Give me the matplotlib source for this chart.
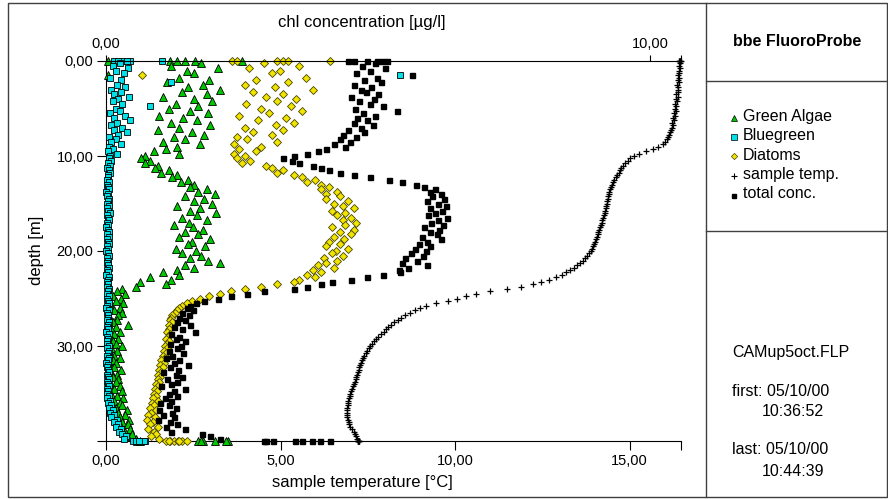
import matplotlib
matplotlib.use("Agg")
import matplotlib.pyplot as plt
from matplotlib.lines import Line2D
from matplotlib.patches import Rectangle

plt.rcParams['font.family'] = ['Liberation Sans', 'DejaVu Sans']

# depth of each sample [m]
depth = [0, 0, 0, 0, 0, 0,
         0.25, 0.5, 0.75, 1.0, 1.25, 1.5, 1.75, 2.0,
         2.25, 2.5, 2.75, 3.0, 3.25, 3.5, 3.75, 4.0,
         4.25, 4.5, 4.75, 5.0, 5.25, 5.5, 5.75, 6.0,
         6.25, 6.5, 6.75, 7.0, 7.25, 7.5, 7.75, 8.0,
         8.25, 8.5, 8.75, 9.0, 9.25, 9.5, 9.75, 10.0,
         10.25, 10.5, 10.75, 11.0, 11.25, 11.5, 11.75, 12.0,
         12.25, 12.5, 12.75, 13.0, 13.25, 13.5, 13.75, 14.0,
         14.25, 14.5, 14.75, 15.0, 15.25, 15.5, 15.75, 16.0,
         16.25, 16.5, 16.75, 17.0, 17.25, 17.5, 17.75, 18.0,
         18.25, 18.5, 18.75, 19.0, 19.25, 19.5, 19.75, 20.0,
         20.25, 20.5, 20.75, 21.0, 21.25, 21.5, 21.75, 22.0,
         22.25, 22.5, 22.75, 23.0, 23.25, 23.5, 23.75, 24.0,
         24.25, 24.5, 24.75, 25.0, 25.25, 25.5, 25.75, 26.0,
         26.25, 26.5, 26.75, 27.0, 27.25, 27.5, 27.75, 28.0,
         28.25, 28.5, 28.75, 29.0, 29.25, 29.5, 29.75, 30.0,
         30.25, 30.5, 30.75, 31.0, 31.25, 31.5, 31.75, 32.0,
         32.25, 32.5, 32.75, 33.0, 33.25, 33.5, 33.75, 34.0,
         34.25, 34.5, 34.75, 35.0, 35.25, 35.5, 35.75, 36.0,
         36.25, 36.5, 36.75, 37.0, 37.25, 37.5, 37.75, 38.0,
         38.25, 38.5, 38.75, 39.0, 39.25, 39.5, 39.75,
         40, 40, 40, 40, 40, 40, 40, 40]

# chl concentration [ug/l]
green_algae = [0.03, 1.18, 1.45, 1.64, 2.50, 1.30,
               1.75, 1.20, 2.05, 1.48, 1.62, 0.03, 1.35, 1.90,
               1.12, 1.78, 1.50, 2.10, 1.40, 1.85, 1.05, 1.62,
               1.95, 1.28, 1.70, 1.15, 1.55, 1.88, 0.98, 1.42,
               1.68, 1.20, 1.92, 1.35, 0.95, 1.58, 1.80, 1.25,
               1.45, 1.05, 1.72, 1.30, 1.10, 0.88, 1.35, 0.72,
               0.65, 0.80, 0.72, 0.95, 0.90, 1.15, 1.02, 1.30,
               1.22, 1.50, 1.38, 1.62, 1.55, 1.85, 1.70, 2.00,
               1.45, 1.80, 1.62, 1.95, 1.30, 1.72, 1.55, 2.02,
               1.68, 1.40, 1.85, 1.52, 1.25, 1.60, 1.78, 1.45,
               1.70, 1.35, 1.92, 1.58, 1.50, 1.82, 1.28, 1.65,
               1.40, 1.75, 1.55, 1.88, 2.10, 1.45, 1.62, 1.30,
               1.05, 1.35, 0.80, 1.20, 0.62, 1.10, 0.55, 0.30,
               0.20, 0.35, 0.12, 0.28, 0.18, 0.32, 0.10, 0.25,
               0.15, 0.30, 0.22, 0.08, 0.20, 0.12, 0.40, 0.18,
               0.10, 0.25, 0.15, 0.08, 0.22, 0.12, 0.18, 0.30,
               0.10, 0.20, 0.08, 0.15, 0.25, 0.12, 0.18, 0.08,
               0.15, 0.28, 0.10, 0.20, 0.12, 0.22, 0.18, 0.08,
               0.25, 0.15, 0.30, 0.10, 0.20, 0.32, 0.15, 0.25,
               0.30, 0.18, 0.38, 0.22, 0.35, 0.25, 0.42, 0.30,
               0.40, 0.28, 0.45, 0.35, 0.48, 0.38, 0.55,
               0.57, 1.70, 1.78, 2.25, 2.00, 1.75, 0.62, 2.20]

bluegreen = [0.15, 0.30, 0.45, 1.03, 0.22, 0.38,
             0.25, 0.12, 0.40, 0.18, 0.33, 5.40, 0.08, 0.28,
             1.20, 0.20, 0.35, 0.10, 0.27, 0.15, 0.42, 0.22,
             0.12, 0.30, 0.80, 0.18, 0.25, 0.08, 0.35, 0.14,
             0.45, 0.20, 0.10, 0.30, 0.15, 0.38, 0.22, 0.06,
             0.18, 0.10, 0.28, 0.05, 0.12, 0.04, 0.20, 0.08,
             0.06, 0.10, 0.03, 0.07, 0.02, 0.05, 0.08, 0.03,
             0.04, 0.01, 0.06, 0.02, 0.03, 0.05, 0.00, 0.04,
             0.02, 0.06, 0.03, 0.01, 0.05, 0.02, 0.04, 0.07,
             0.01, 0.03, 0.05, 0.02, 0.04, 0.00, 0.03, 0.06,
             0.02, 0.05, 0.01, 0.03, 0.06, 0.02, 0.04, 0.00,
             0.03, 0.05, 0.02, 0.04, 0.01, 0.04, 0.06, 0.02,
             0.03, 0.00, 0.05, 0.03, 0.02, 0.04, 0.01, 0.05,
             0.04, 0.02, 0.06, 0.01, 0.03, 0.05, 0.02, 0.00,
             0.05, 0.01, 0.03, 0.04, 0.02, 0.06, 0.04, 0.01,
             0.03, 0.00, 0.05, 0.02, 0.04, 0.02, 0.01, 0.06,
             0.01, 0.05, 0.03, 0.02, 0.06, 0.03, 0.00, 0.04,
             0.02, 0.04, 0.05, 0.01, 0.03, 0.06, 0.02, 0.04,
             0.05, 0.01, 0.03, 0.02, 0.05, 0.02, 0.08, 0.04,
             0.10, 0.06, 0.12, 0.08, 0.15, 0.10, 0.20, 0.14,
             0.22, 0.18, 0.28, 0.24, 0.30, 0.36, 0.33,
             0.50, 0.58, 0.66, 0.72, 0.55, 0.62, 0.70, 0.60]

diatoms = [2.32, 3.15, 3.25, 3.35, 4.12, 2.40,
           2.90, 3.55, 2.62, 3.20, 3.05, 0.66, 3.68, 2.75,
           3.35, 2.55, 3.10, 3.80, 2.70, 3.25, 2.95, 3.50,
           3.15, 2.58, 3.40, 2.85, 3.60, 3.00, 2.45, 3.30,
           2.80, 3.45, 3.12, 2.55, 3.25, 2.70, 3.05, 2.40,
           2.60, 3.15, 2.35, 2.85, 2.45, 2.75, 2.35, 2.55,
           2.40, 2.65, 2.50, 2.95, 3.05, 3.25, 3.15, 3.45,
           3.60, 3.85, 3.70, 3.95, 4.10, 3.95, 4.25, 4.05,
           4.30, 4.05, 4.45, 4.20, 4.35, 4.55, 4.15, 4.40,
           4.25, 4.50, 4.35, 4.60, 4.40, 4.15, 4.55, 4.30,
           4.50, 4.20, 4.38, 4.10, 4.30, 4.05, 4.45, 4.22,
           4.15, 4.35, 4.00, 4.25, 4.05, 3.90, 4.20, 3.80,
           3.95, 3.70, 3.85, 3.55, 3.45, 3.15, 2.85, 2.55,
           2.30, 2.10, 1.90, 1.72, 1.58, 1.48, 1.40, 1.35,
           1.30, 1.26, 1.22, 1.20, 1.18, 1.22, 1.15, 1.20,
           1.16, 1.12, 1.18, 1.14, 1.10, 1.15, 1.12, 1.08,
           1.12, 1.06, 1.10, 1.04, 1.08, 1.02, 1.06, 1.00,
           1.04, 0.98, 1.02, 0.96, 1.00, 0.95, 0.98, 0.92,
           0.96, 0.90, 0.94, 0.88, 0.92, 0.86, 0.95, 0.84,
           0.88, 0.80, 0.92, 0.82, 0.78, 0.90, 0.75, 0.86,
           0.80, 0.95, 0.78, 0.88, 0.92, 0.82, 0.98,
           1.10, 1.18, 1.25, 1.32, 1.40, 1.48, 1.15, 1.35]

total_conc = [4.45, 4.55, 4.98, 5.07, 5.16, 4.80,
              4.95, 4.70, 5.12, 4.85, 4.60, 5.62, 4.98, 4.75,
              5.05, 4.55, 4.88, 4.68, 4.78, 5.00, 4.50, 4.92,
              4.65, 4.85, 5.10, 4.58, 5.35, 4.72, 4.95, 4.62,
              4.80, 4.55, 4.90, 4.68, 4.45, 4.75, 4.35, 4.60,
              4.30, 4.48, 4.20, 4.40, 4.05, 3.90, 3.70, 3.45,
              3.25, 3.42, 3.55, 3.80, 3.95, 4.10, 4.30, 4.55,
              4.85, 5.20, 5.45, 5.70, 5.85, 6.05, 5.95, 6.15,
              6.00, 6.22, 5.90, 6.10, 6.25, 5.95, 6.18, 6.05,
              5.92, 6.27, 6.10, 5.98, 6.20, 5.85, 6.12, 5.95,
              6.08, 5.80, 6.15, 5.90, 5.75, 5.95, 5.68, 5.88,
              5.60, 5.82, 5.50, 5.72, 5.45, 5.90, 5.55, 5.38,
              5.40, 5.10, 4.80, 4.50, 4.15, 3.95, 3.70, 3.45,
              2.90, 2.60, 2.30, 2.05, 1.80, 1.65, 1.55, 1.48,
              1.60, 1.40, 1.52, 1.35, 1.45, 1.30, 1.55, 1.25,
              1.40, 1.64, 1.20, 1.35, 1.28, 1.45, 1.18, 1.38,
              1.30, 1.15, 1.42, 1.22, 1.10, 1.35, 1.25, 1.50,
              1.18, 1.32, 1.05, 1.28, 1.40, 1.12, 1.30, 1.20,
              1.02, 1.45, 1.25, 1.15, 1.30, 1.08, 1.20, 1.00,
              1.15, 1.28, 0.98, 1.22, 1.05, 1.25, 0.96, 1.18,
              1.30, 1.10, 1.45, 1.20, 1.77, 1.92, 2.10,
              2.90, 3.07, 3.47, 3.78, 3.93, 4.12, 2.95, 3.60]

# sample temperature [C]
sample_temp = [16.45, 16.42, 16.47, 16.40, 16.44, 16.43,
               16.43, 16.41, 16.44, 16.40, 16.42, 16.39, 16.41, 16.38,
               16.40, 16.36, 16.39, 16.37, 16.38, 16.34, 16.37, 16.33,
               16.35, 16.31, 16.34, 16.30, 16.32, 16.27, 16.29, 16.25,
               16.27, 16.22, 16.24, 16.20, 16.19, 16.15, 16.14, 16.10,
               16.06, 16.02, 15.95, 15.82, 15.66, 15.48, 15.28, 15.12,
               15.02, 14.95, 14.88, 14.81, 14.76, 14.72, 14.68, 14.64,
               14.60, 14.56, 14.52, 14.49, 14.46, 14.44, 14.42, 14.40,
               14.39, 14.37, 14.36, 14.35, 14.33, 14.31, 14.30, 14.28,
               14.26, 14.24, 14.22, 14.20, 14.18, 14.15, 14.13, 14.10,
               14.08, 14.05, 14.03, 14.00, 13.97, 13.94, 13.91, 13.88,
               13.84, 13.79, 13.72, 13.65, 13.58, 13.50, 13.41, 13.30,
               13.18, 13.05, 12.90, 12.70, 12.45, 12.22, 11.90, 11.50,
               11.00, 10.60, 10.30, 10.05, 9.80, 9.45, 9.18, 9.00,
               8.85, 8.70, 8.57, 8.45, 8.35, 8.25, 8.16, 8.08,
               8.01, 7.95, 7.87, 7.80, 7.74, 7.68, 7.62, 7.57,
               7.52, 7.48, 7.44, 7.40, 7.37, 7.34, 7.31, 7.28,
               7.26, 7.24, 7.22, 7.20, 7.17, 7.15, 7.12, 7.10,
               7.07, 7.05, 7.02, 7.00, 6.98, 6.96, 6.94, 6.93,
               6.92, 6.91, 6.90, 6.90, 6.90, 6.91, 6.92, 6.95,
               6.97, 7.00, 7.04, 7.10, 7.13, 7.16, 7.19,
               7.23, 7.22, 7.24, 7.21, 7.25, 7.23, 7.22, 7.24]

temp_ticks = [0, 5, 10, 15]
temp_labels = ['0,00', '5,00', '10,00', '15,00']
chl_ticks = [0, 10]
chl_labels = ['0,00', '10,00']
depth_ticks = [0, 10, 20, 30]
depth_labels = ['0,00', '10,00', '20,00', '30,00']

W, H = 888, 499
fig = plt.figure(figsize=(W / 100, H / 100), dpi=100)


def fx(px):
    return px / W


def fy(py):
    return 1 - py / H


TEMP_MAX = 16.47
CHL_MAX = 10.57

ax = fig.add_axes([fx(106), fy(441), fx(681) - fx(106), fy(61) - fy(441)])
ax.set_xlim(0, TEMP_MAX)
ax.set_ylim(40, 0)
for s in ['right', 'top']:
    ax.spines[s].set_visible(False)
for s in ['left', 'bottom']:
    ax.spines[s].set_linewidth(0.8)

ax.set_xticks(temp_ticks + [TEMP_MAX])
ax.set_xticklabels(temp_labels + [''])
ax.set_yticks(depth_ticks + [40])
ax.set_yticklabels(depth_labels + [''])
ax.tick_params(axis='x', direction='out', length=6.5, width=0.8, pad=3, labelsize=10.5)
ax.tick_params(axis='y', direction='out', length=6.5, width=0.8, pad=2.5, labelsize=10.5)

ax2 = ax.twiny()
ax2.set_xlim(0, CHL_MAX)
ax2.set_ylim(40, 0)
for s in ['right', 'left', 'bottom']:
    ax2.spines[s].set_visible(False)
ax2.spines['top'].set_linewidth(0.8)
ax2.set_xticks(chl_ticks + [CHL_MAX])
ax2.set_xticklabels(chl_labels + [''])
ax2.tick_params(axis='x', direction='out', length=4.5, width=0.8, pad=3, labelsize=10.5)

# temperature on the lower axis
ax.plot(sample_temp, depth, ls='none', marker='+', ms=5, mew=0.9, color='black', clip_on=False)

# chl groups on the upper axis
ax2.plot(green_algae, depth, ls='none', marker='^', ms=5.5, mfc='#00c800', mec='black', mew=0.6, clip_on=False)
ax2.plot(bluegreen, depth, ls='none', marker='s', ms=5, mfc='#00e0e8', mec='black', mew=0.6, clip_on=False)
ax2.plot(diatoms, depth, ls='none', marker='D', ms=4.2, mfc='#f0e400', mec='#4a4600', mew=0.6, clip_on=False)
ax2.plot(total_conc, depth, ls='none', marker='s', ms=3.6, color='black', clip_on=False)

fig.text(fx(362), fy(23), 'chl concentration [\u00b5g/l]', ha='center', va='center', fontsize=12)
fig.text(fx(362), fy(483), 'sample temperature [\u00b0C]', ha='center', va='center', fontsize=12)
fig.text(fx(37), fy(250), 'depth [m]', ha='center', va='center', rotation=90, fontsize=12)

# frame and side panel
frame_col = '#404040'
fig.add_artist(Rectangle((fx(8), fy(497)), fx(886.5) - fx(8), fy(3) - fy(497),
                         transform=fig.transFigure, fill=False, ec=frame_col, lw=1))
fig.add_artist(Line2D([fx(706), fx(706)], [fy(3), fy(497)], transform=fig.transFigure, color=frame_col, lw=1))
for yy in [81, 231]:
    fig.add_artist(Line2D([fx(706), fx(886.5)], [fy(yy), fy(yy)], transform=fig.transFigure, color=frame_col, lw=1))

fig.text(fx(797), fy(42), 'bbe FluoroProbe', ha='center', va='center', fontsize=11.5, fontweight='bold')

legend_items = [
    ('Green Algae', dict(marker='^', ms=4, mfc='#00c800', mec='black', mew=0.5)),
    ('Bluegreen', dict(marker='s', ms=3.8, mfc='#00e0e8', mec='black', mew=0.5)),
    ('Diatoms', dict(marker='D', ms=3.2, mfc='#f0e400', mec='#4a4600', mew=0.5)),
    ('sample temp.', dict(marker='+', ms=4, mec='black', mew=0.8)),
    ('total conc.', dict(marker='s', ms=3, mfc='black', mec='black')),
]
for i, (label, style) in enumerate(legend_items):
    yy = 116 + i * 19.5
    fig.add_artist(Line2D([fx(734)], [fy(yy + 1.5)], transform=fig.transFigure, ls='none', **style))
    fig.text(fx(743), fy(yy), label, ha='left', va='center', fontsize=11.5)

fig.text(fx(732), fy(352), 'CAMup5oct.FLP', ha='left', va='center', fontsize=11.5)
fig.text(fx(732), fy(392), 'first: 05/10/00', ha='left', va='center', fontsize=11.5)
fig.text(fx(762), fy(412), '10:36:52', ha='left', va='center', fontsize=11.5)
fig.text(fx(732), fy(450), 'last: 05/10/00', ha='left', va='center', fontsize=11.5)
fig.text(fx(762), fy(471), '10:44:39', ha='left', va='center', fontsize=11.5)

fig.savefig('out.png', dpi=100)
